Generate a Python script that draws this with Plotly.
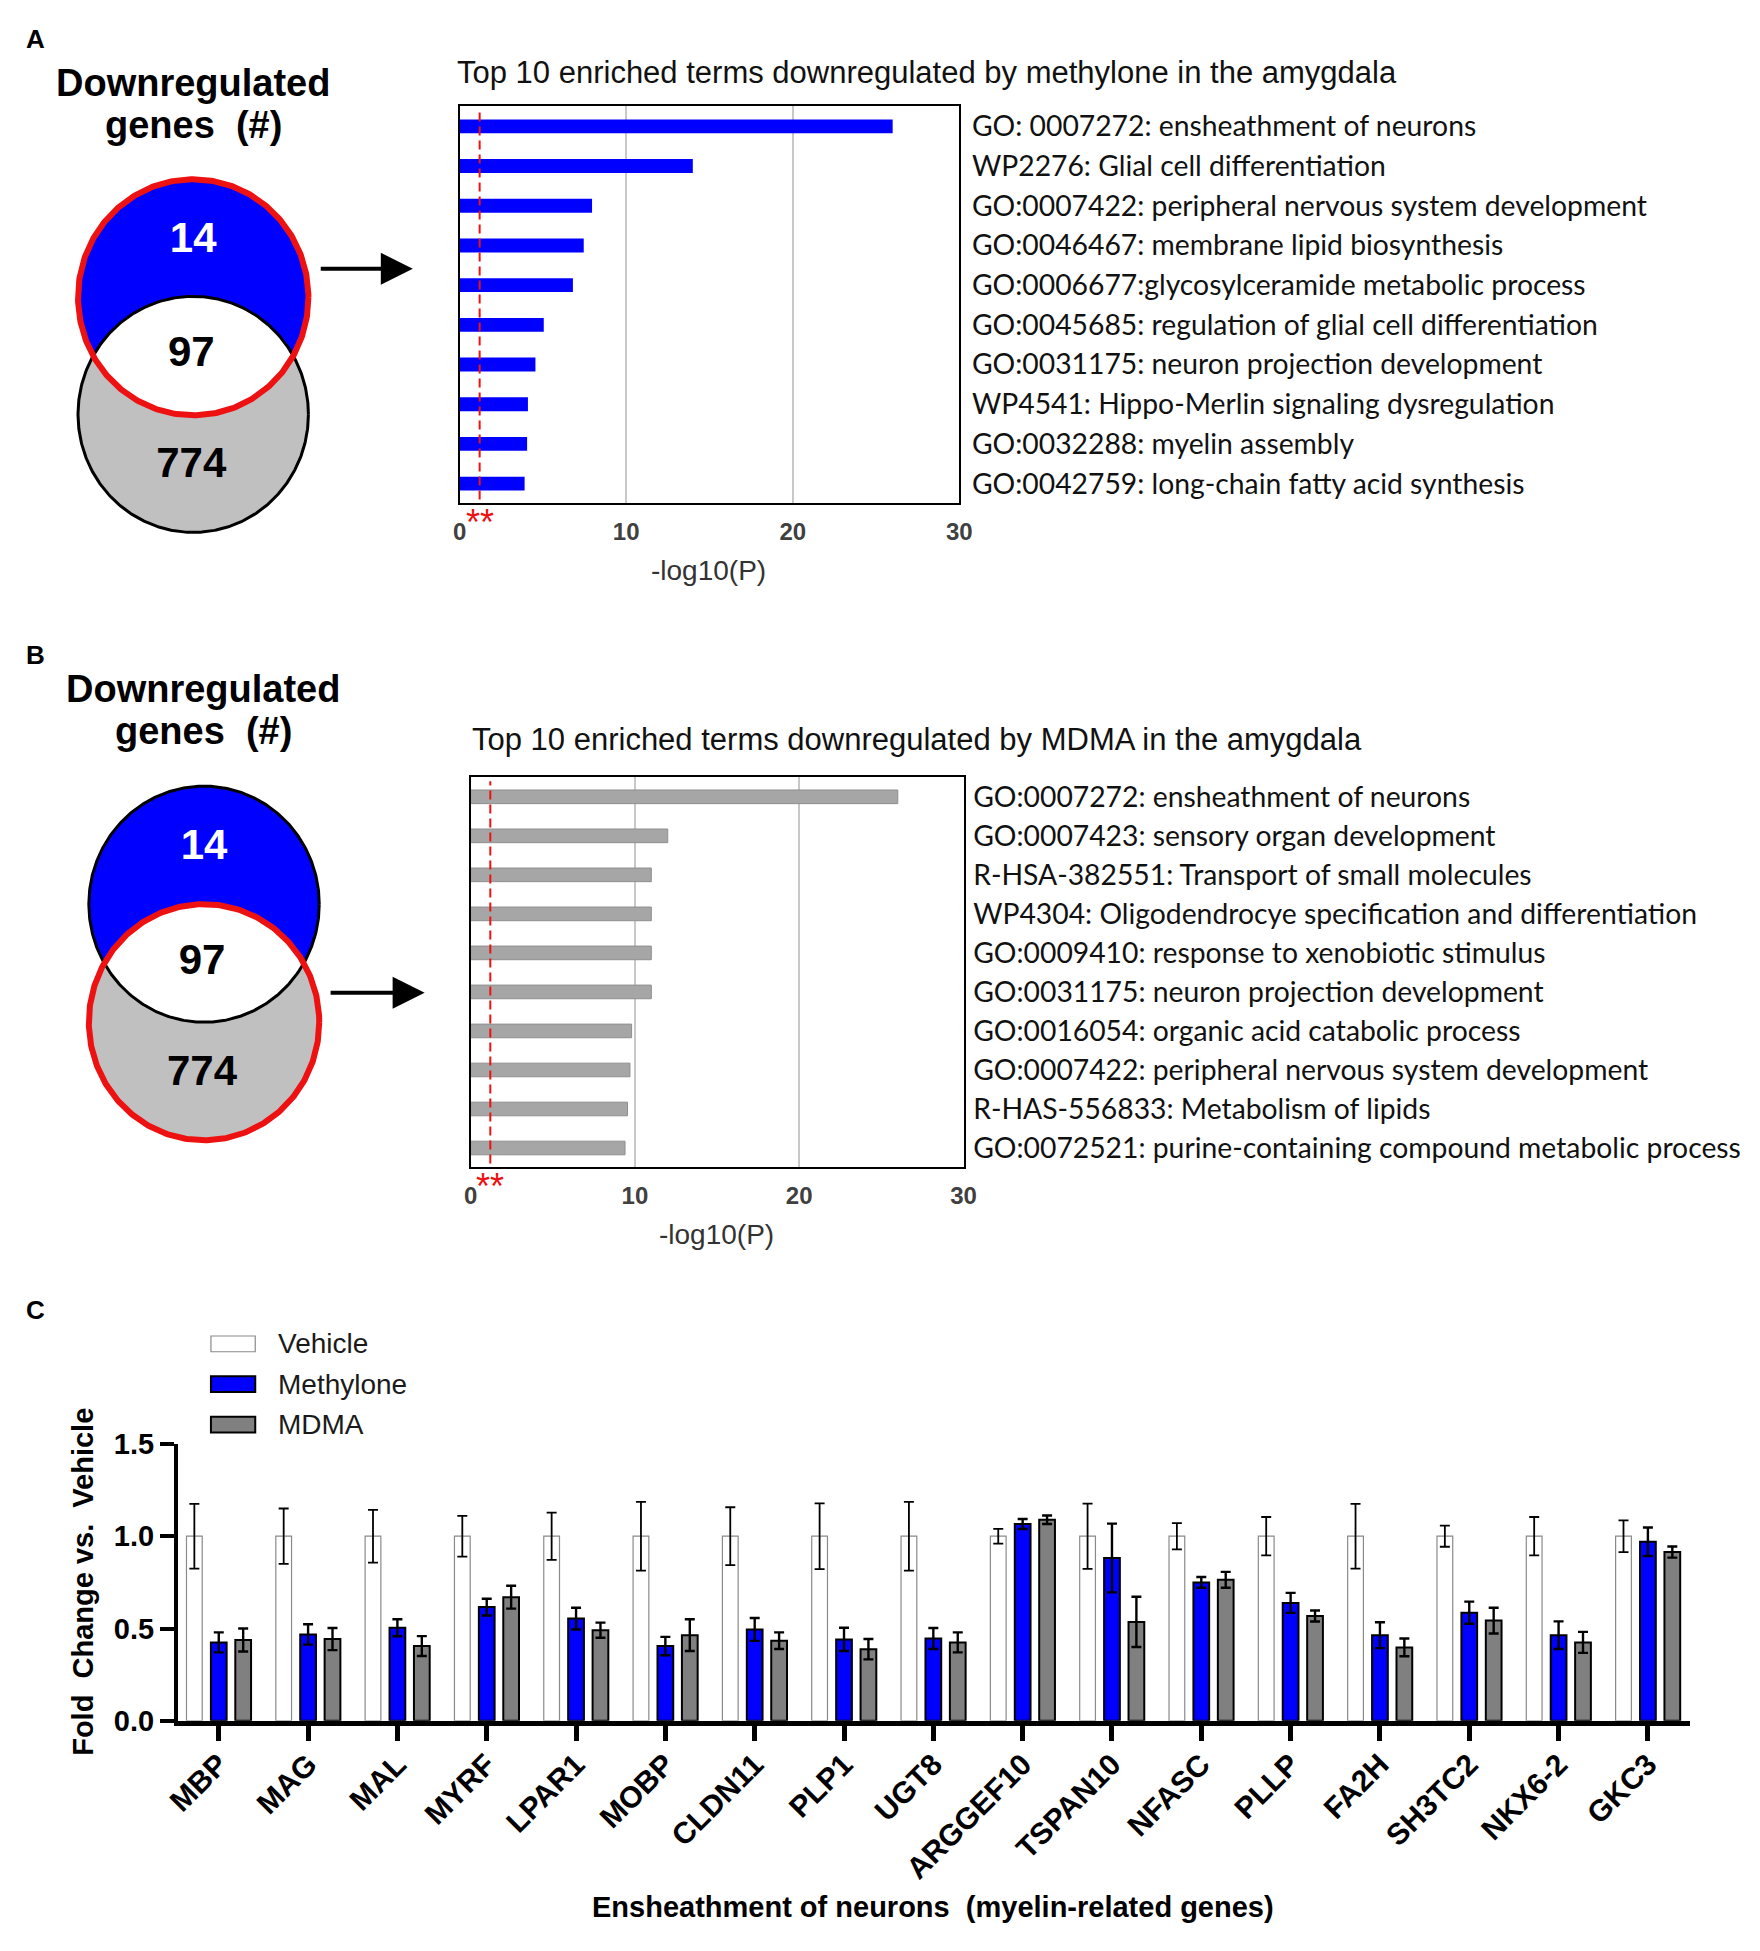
import numpy as np
import plotly.graph_objects as go

W, H = 1760, 1951

# ---------------- data ----------------
venn_counts = [14, 97, 774]          # methylone only, shared, MDMA only

terms_methylone = [
    "GO: 0007272: ensheathment of neurons",
    "WP2276: Glial cell differentiation",
    "GO:0007422: peripheral nervous system development",
    "GO:0046467: membrane lipid biosynthesis",
    "GO:0006677:glycosylceramide metabolic process",
    "GO:0045685: regulation of glial cell differentiation",
    "GO:0031175: neuron projection development",
    "WP4541: Hippo-Merlin signaling dysregulation",
    "GO:0032288: myelin assembly",
    "GO:0042759: long-chain fatty acid synthesis",
]
logp_methylone = [26.0, 14.0, 7.95, 7.45, 6.8, 5.05, 4.55, 4.1, 4.05, 3.9]

terms_mdma = [
    "GO:0007272: ensheathment of neurons",
    "GO:0007423: sensory organ development",
    "R-HSA-382551: Transport of small molecules",
    "WP4304: Oligodendrocye specification and differentiation",
    "GO:0009410: response to xenobiotic stimulus",
    "GO:0031175: neuron projection development",
    "GO:0016054: organic acid catabolic process",
    "GO:0007422: peripheral nervous system development",
    "R-HAS-556833: Metabolism of lipids",
    "GO:0072521: purine-containing compound metabolic process",
]
logp_mdma = [26.0, 12.0, 11.0, 11.0, 11.0, 11.0, 9.8, 9.7, 9.55, 9.4]

sig_threshold = 1.2
x_ticks_enrich = [0, 10, 20, 30]

genes = ["MBP", "MAG", "MAL", "MYRF", "LPAR1", "MOBP", "CLDN11", "PLP1", "UGT8",
         "ARGGEF10", "TSPAN10", "NFASC", "PLLP", "FA2H", "SH3TC2", "NKX6-2", "GKC3"]
series_names = ["Vehicle", "Methylone", "MDMA"]
vehicle_mean = [1.0, 1.0, 1.0, 1.0, 1.0, 1.0, 1.0, 1.0, 1.0, 1.0, 1.0, 1.0, 1.0, 1.0, 1.0, 1.0, 1.0]
vehicle_sem = [0.175, 0.15, 0.143, 0.11, 0.128, 0.186, 0.157, 0.178, 0.186, 0.04, 0.177,
               0.071, 0.104, 0.175, 0.057, 0.104, 0.086]
methylone_mean = [0.425, 0.468, 0.504, 0.616, 0.554, 0.405, 0.495, 0.441, 0.446, 1.066, 0.882,
                  0.75, 0.639, 0.464, 0.586, 0.464, 0.97]
methylone_sem = [0.054, 0.055, 0.046, 0.045, 0.059, 0.05, 0.062, 0.063, 0.057, 0.027, 0.186,
                 0.029, 0.054, 0.07, 0.06, 0.075, 0.077]
mdma_mean = [0.438, 0.443, 0.405, 0.67, 0.491, 0.464, 0.434, 0.388, 0.425, 1.089, 0.536,
             0.764, 0.568, 0.398, 0.543, 0.425, 0.914]
mdma_sem = [0.062, 0.06, 0.054, 0.062, 0.041, 0.086, 0.045, 0.055, 0.054, 0.023, 0.136,
            0.043, 0.03, 0.048, 0.07, 0.057, 0.03]
y_ticks_fc = [0.0, 0.5, 1.0, 1.5]

# ---------------- styles ----------------
ARIAL = "Liberation Sans, Arial, sans-serif"
CAL = "Lato, Carlito, Calibri, sans-serif"
BLUE = "#0000ff"
RED = "#ee1111"
VGRAY = "#c0c0c0"


def fx(px):
    return px / W


def fy(py):
    return 1 - py / H


fig = go.Figure()


# ---------------- Venn diagrams ----------------
def add_venn(xa, ya, cx, cy_top, cy_bot, rx, ry, highlight_top):
    th = np.linspace(0, 2 * np.pi, 400)
    d = cy_bot - cy_top
    t0 = np.arcsin(d / (2 * ry))
    a1 = np.linspace(t0, np.pi - t0, 200)
    a2 = np.linspace(np.pi + t0, 2 * np.pi - t0, 200)
    lens_x = np.concatenate([cx + rx * np.cos(a1), cx + rx * np.cos(a2)])
    lens_y = np.concatenate([cy_top + ry * np.sin(a1), cy_bot + ry * np.sin(a2)])
    top = (cx + rx * np.cos(th), cy_top + ry * np.sin(th))
    bot = (cx + rx * np.cos(th), cy_bot + ry * np.sin(th))
    common = dict(xaxis=xa, yaxis=ya, hoverinfo="skip", showlegend=False, mode="lines")
    fig.add_trace(go.Scatter(x=bot[0], y=bot[1], fill="toself", fillcolor=VGRAY,
                             line=dict(width=0, color=VGRAY), **common))
    fig.add_trace(go.Scatter(x=top[0], y=top[1], fill="toself", fillcolor=BLUE,
                             line=dict(width=0, color=BLUE), **common))
    fig.add_trace(go.Scatter(x=lens_x, y=lens_y, fill="toself", fillcolor="white",
                             line=dict(width=0, color="white"), **common))
    plain, hi = (bot, top) if highlight_top else (top, bot)
    fig.add_trace(go.Scatter(x=plain[0], y=plain[1], line=dict(width=3, color="black"), **common))
    fig.add_trace(go.Scatter(x=hi[0], y=hi[1], line=dict(width=6, color=RED), **common))
    fig.add_trace(go.Scatter(
        x=[cx, cx - 2, cx - 2],
        y=[cy_top - 0.47 * ry, (cy_top + cy_bot) / 2, cy_bot + 0.44 * ry],
        mode="text", text=[str(c) for c in venn_counts],
        textfont=dict(family=ARIAL, size=42, color=["white", "black", "black"], weight="bold"),
        xaxis=xa, yaxis=ya, hoverinfo="skip", showlegend=False))


add_venn("x", "y", 182, 286, 405, 117, 120, True)
add_venn("x3", "y3", 193, 903, 1023, 117, 120, False)

venn_axis = dict(showgrid=False, zeroline=False, showticklabels=False, showline=False, ticks="")
fig.update_layout(
    xaxis=dict(domain=[0, fx(440)], range=[0, 440], anchor="y", **venn_axis),
    yaxis=dict(domain=[fy(540), fy(140)], range=[540, 140], anchor="x", **venn_axis),
    xaxis3=dict(domain=[0, fx(450)], range=[0, 450], anchor="y3", **venn_axis),
    yaxis3=dict(domain=[fy(1160), fy(770)], range=[1160, 770], anchor="x3", **venn_axis),
)

# ---------------- enrichment bar charts ----------------
fig.add_trace(go.Bar(x=logp_methylone, y=terms_methylone, orientation="h", width=0.35,
                     marker=dict(color=BLUE, line=dict(width=0)),
                     xaxis="x2", yaxis="y2", showlegend=False))
fig.add_trace(go.Bar(x=logp_mdma, y=terms_mdma, orientation="h", width=0.35,
                     marker=dict(color="#a6a6a6", line=dict(width=1, color="#8f8f8f")),
                     xaxis="x4", yaxis="y4", showlegend=False))


def enrich_x(dom, anchor):
    return dict(domain=dom, anchor=anchor, range=[0, 30], tickvals=x_ticks_enrich,
                showgrid=True, gridcolor="#c8c8c8", gridwidth=1.5, zeroline=False,
                showline=True, mirror=True, linecolor="black", linewidth=2, ticks="",
                tickfont=dict(family=ARIAL, size=24, color="#404040", weight="bold"),
                ticklabelstandoff=6)


def enrich_y(dom, anchor, standoff):
    return dict(domain=dom, anchor=anchor, type="category", autorange="reversed",
                side="right", showline=True, mirror=True, linecolor="black", linewidth=2,
                ticks="", showgrid=False, zeroline=False,
                tickfont=dict(family=CAL, size=28.3, color="#111111"),
                ticklabelstandoff=standoff)


fig.update_layout(
    xaxis2=enrich_x([fx(452.6), fx(960)], "y2"),
    yaxis2=enrich_y([fy(495.6), fy(92)], "x2", 5),
    xaxis4=enrich_x([fx(463.7), fx(964.3)], "y4"),
    yaxis4=enrich_y([fy(1170.7), fy(774)], "x4", 2),
)

shapes = []
for xr, yr in (("x2", "y2 domain"), ("x4", "y4 domain")):
    shapes.append(dict(type="line", xref=xr, yref=yr, x0=sig_threshold, x1=sig_threshold,
                       y0=0.01, y1=0.99, line=dict(color=RED, width=2, dash="9px,5px"),
                       layer="above"))

# ---------------- panel C grouped bars ----------------
err_common = dict(type="data", visible=True, color="black")
fig.add_trace(go.Bar(x=genes, y=vehicle_mean, name=series_names[0],
                     marker=dict(color="white", line=dict(color="#8a8a8a", width=1.2)),
                     error_y=dict(array=vehicle_sem, thickness=1.8, width=5, **err_common),
                     xaxis="x5", yaxis="y5", showlegend=False))
fig.add_trace(go.Bar(x=genes, y=methylone_mean, name=series_names[1],
                     marker=dict(color=BLUE, line=dict(color="black", width=2)),
                     error_y=dict(array=methylone_sem, thickness=2.4, width=5, **err_common),
                     xaxis="x5", yaxis="y5", showlegend=False))
fig.add_trace(go.Bar(x=genes, y=mdma_mean, name=series_names[2],
                     marker=dict(color="#808080", line=dict(color="black", width=2)),
                     error_y=dict(array=mdma_sem, thickness=2.4, width=5, **err_common),
                     xaxis="x5", yaxis="y5", showlegend=False))

fig.update_layout(
    barmode="group", bargap=0.18, bargroupgap=0.355,
    xaxis5=dict(domain=[fx(166.5), fx(1702)], anchor="y5", type="category",
                range=[-0.457, 16.47], showline=True, linecolor="black", linewidth=5,
                ticks="outside", ticklen=15, tickwidth=5, tickcolor="black",
                tickangle=-45, showgrid=False, zeroline=False, ticklabelstandoff=-6,
                tickfont=dict(family=ARIAL, size=30, color="black", weight="bold")),
    yaxis5=dict(domain=[fy(1733.3), fy(1451.7)], anchor="x5", range=[0, 1.5],
                tickvals=y_ticks_fc, tickformat=".1f", showline=True, linecolor="black",
                linewidth=4, ticks="outside", ticklen=14, tickwidth=4, tickcolor="black",
                showgrid=False, zeroline=False,
                tickfont=dict(family=ARIAL, size=29, color="black", weight="bold")),
)

annotations = []


def ann(text, x, y, size, family=ARIAL, weight="normal", color="black", xanchor="center",
        angle=0, xref="paper"):
    annotations.append(dict(text=text, x=x if xref != "paper" else fx(x), y=fy(y),
                            xref=xref, yref="paper", xanchor=xanchor, yanchor="middle",
                            textangle=angle, showarrow=False,
                            font=dict(family=family, size=size, color=color, weight=weight)))


# legend (manual)
leg_colors = [("white", "#8a8a8a", 1.2), (BLUE, "black", 2), ("#808080", "black", 2)]
for i, (name, (fc, lc, lw)) in enumerate(zip(series_names, leg_colors)):
    yc = 1350 + i * 41
    shapes.append(dict(type="rect", xref="paper", yref="paper", x0=fx(200), x1=fx(245),
                       y0=fy(yc + 8), y1=fy(yc - 8), fillcolor=fc, line=dict(color=lc, width=lw)))
    ann(name, 266, yc, 28, color="#1a1a1a", xanchor="left")

ann("A", 22, 23, 26, weight="bold")
ann("B", 22, 650, 26, weight="bold")
ann("C", 22, 1316, 26, weight="bold")
ann("Downregulated", 182, 68, 38, weight="bold")
ann("genes&nbsp; (#)", 182, 111, 38, weight="bold")
ann("Downregulated", 192, 684, 38, weight="bold")
ann("genes&nbsp; (#)", 192, 727, 38, weight="bold")
ann("Top 10 enriched terms downregulated by methylone in the amygdala", 448, 57, 31,
    color="#111111", xanchor="left")
ann("Top 10 enriched terms downregulated by MDMA in the amygdala", 463, 736, 31,
    color="#111111", xanchor="left")
ann("-log10(P)", 705, 564, 28, color="#333333")
ann("-log10(P)", 713, 1239, 28, color="#333333")
ann("**", sig_threshold, 515, 36, color=RED, xref="x2")
ann("**", sig_threshold, 1190, 36, color=RED, xref="x4")
ann("Fold&nbsp; Change vs.&nbsp; Vehicle", 70, 1592, 29, weight="bold", angle=-90)
ann("Ensheathment of neurons&nbsp; (myelin-related genes)", 933, 1923, 29, weight="bold")

# arrows
for xa, ya, x0, x1, yv in (("x", "y", 310, 405, 257), ("x3", "y3", 320, 417, 993)):
    annotations.append(dict(x=x1, y=yv, ax=x0, ay=yv, xref=xa, yref=ya, axref=xa, ayref=ya,
                            showarrow=True, arrowhead=2, arrowsize=1.6, arrowwidth=4,
                            arrowcolor="black", text=""))

fig.update_layout(width=W, height=H, margin=dict(l=0, r=0, t=0, b=0),
                  paper_bgcolor="white", plot_bgcolor="white", showlegend=False,
                  shapes=shapes, annotations=annotations)

fig.write_html("out.html", config={"displayModeBar": False},
               post_script="document.body.style.margin='0';document.body.style.overflow='hidden';")
